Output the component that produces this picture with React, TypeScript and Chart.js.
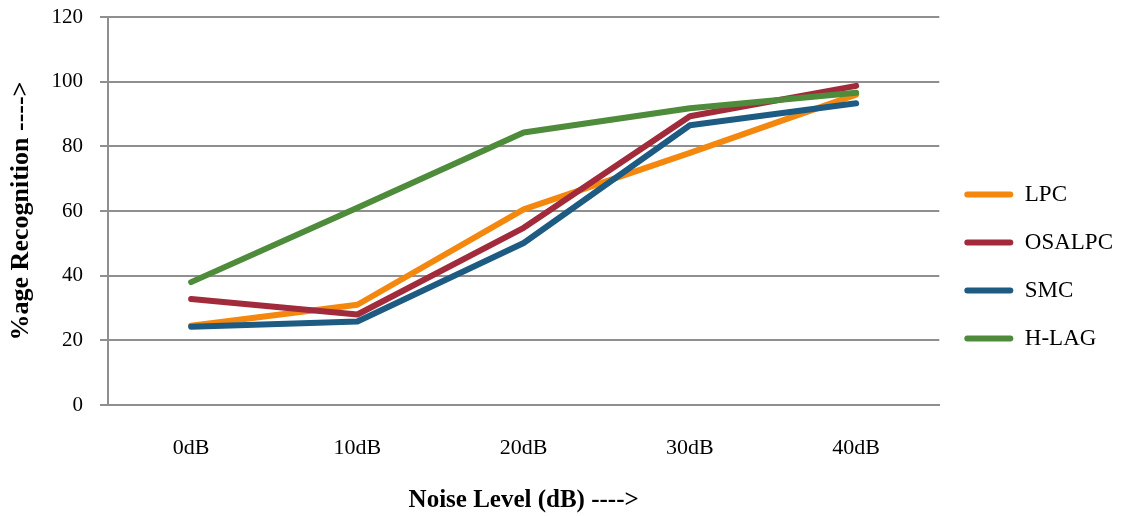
import { useEffect, useRef } from "react";
import { Chart, registerables } from "chart.js";

Chart.register(...registerables);

// Recognition rate (%) per noise level for each feature set
const noiseLevels = ["0dB", "10dB", "20dB", "30dB", "40dB"];
const lpc = [24.5, 31, 60.5, 78, 96];
const osalpc = [32.8, 28, 54.8, 89.3, 98.7];
const smc = [24.2, 25.8, 50.1, 86.5, 93.3];
const hLag = [38, 61, 84.3, 91.8, 96.6];

const seriesNames = ["LPC", "OSALPC", "SMC", "H-LAG"];
const seriesColors = ["#F4880E", "#A12B3B", "#1D5B82", "#4E8B3B"];

const serif = "'Liberation Serif', 'Times New Roman', serif";
const gridColor = "#8f8f8f";
const textColor = "#000000";

export default function App() {
  const canvasRef = useRef<HTMLCanvasElement>(null);

  useEffect(() => {
    const canvas = canvasRef.current;
    if (!canvas) return;

    const values = [lpc, osalpc, smc, hLag];
    const datasets = values.map((data, i) => ({
      label: seriesNames[i],
      data,
      borderColor: seriesColors[i],
      backgroundColor: seriesColors[i],
      borderWidth: 6,
      borderCapStyle: "round" as const,
      borderJoinStyle: "round" as const,
      pointRadius: 0,
      pointHoverRadius: 0,
      tension: 0,
      fill: false,
      // later series are painted on top
      order: values.length - i,
    }));

    const chart = new Chart(canvas, {
      type: "line",
      data: { labels: noiseLevels, datasets },
      options: {
        responsive: false,
        animation: false,
        layout: { padding: { top: 17, right: 0, bottom: 0, left: 0 } },
        plugins: {
          tooltip: { enabled: false },
          legend: {
            position: "right",
            labels: {
              font: { family: serif, size: 23 },
              color: textColor,
              boxWidth: 49,
              boxHeight: 6,
              padding: 25,
              useBorderRadius: true,
              borderRadius: 3,
              sort: (a: any, b: any) => a.datasetIndex - b.datasetIndex,
              generateLabels: (c: any) =>
                Chart.defaults.plugins.legend.labels
                  .generateLabels(c)
                  .map((item: any) => ({ ...item, lineWidth: 0 })),
            },
          },
        },
        scales: {
          x: {
            offset: true,
            grid: { display: false, drawTicks: false },
            border: { display: true, color: gridColor, width: 2 },
            ticks: { font: { family: serif, size: 22 }, color: textColor, padding: 30 },
            title: {
              display: true,
              text: "Noise Level (dB) ---->",
              font: { family: serif, size: 25, weight: "bold" },
              color: textColor,
              padding: { top: 0, bottom: 0 },
            },
            afterFit: (scale: any) => {
              scale.height = 111;
            },
          },
          y: {
            min: 0,
            max: 120,
            ticks: {
              stepSize: 20,
              font: { family: serif, size: 21 },
              color: textColor,
              padding: 17,
            },
            grid: { color: gridColor, lineWidth: 2, drawTicks: true, tickLength: 8 },
            border: { display: true, color: gridColor, width: 2 },
            title: {
              display: true,
              text: "%age Recognition ---->",
              font: { family: serif, size: 26, weight: "bold" },
              color: textColor,
              padding: { top: 6, bottom: 4 },
            },
            afterFit: (scale: any) => {
              scale.width = 108;
              // the top/bottom label overhang fits inside the layout padding
              scale.paddingTop = 0;
              scale.paddingBottom = 0;
            },
          },
        },
      },
    });

    return () => chart.destroy();
  }, []);

  return (
    <div style={{ position: "absolute", left: 0, top: 0, width: 1123, height: 516, background: "#fff" }}>
      <canvas ref={canvasRef} width={1123} height={516} style={{ display: "block" }} />
    </div>
  );
}
